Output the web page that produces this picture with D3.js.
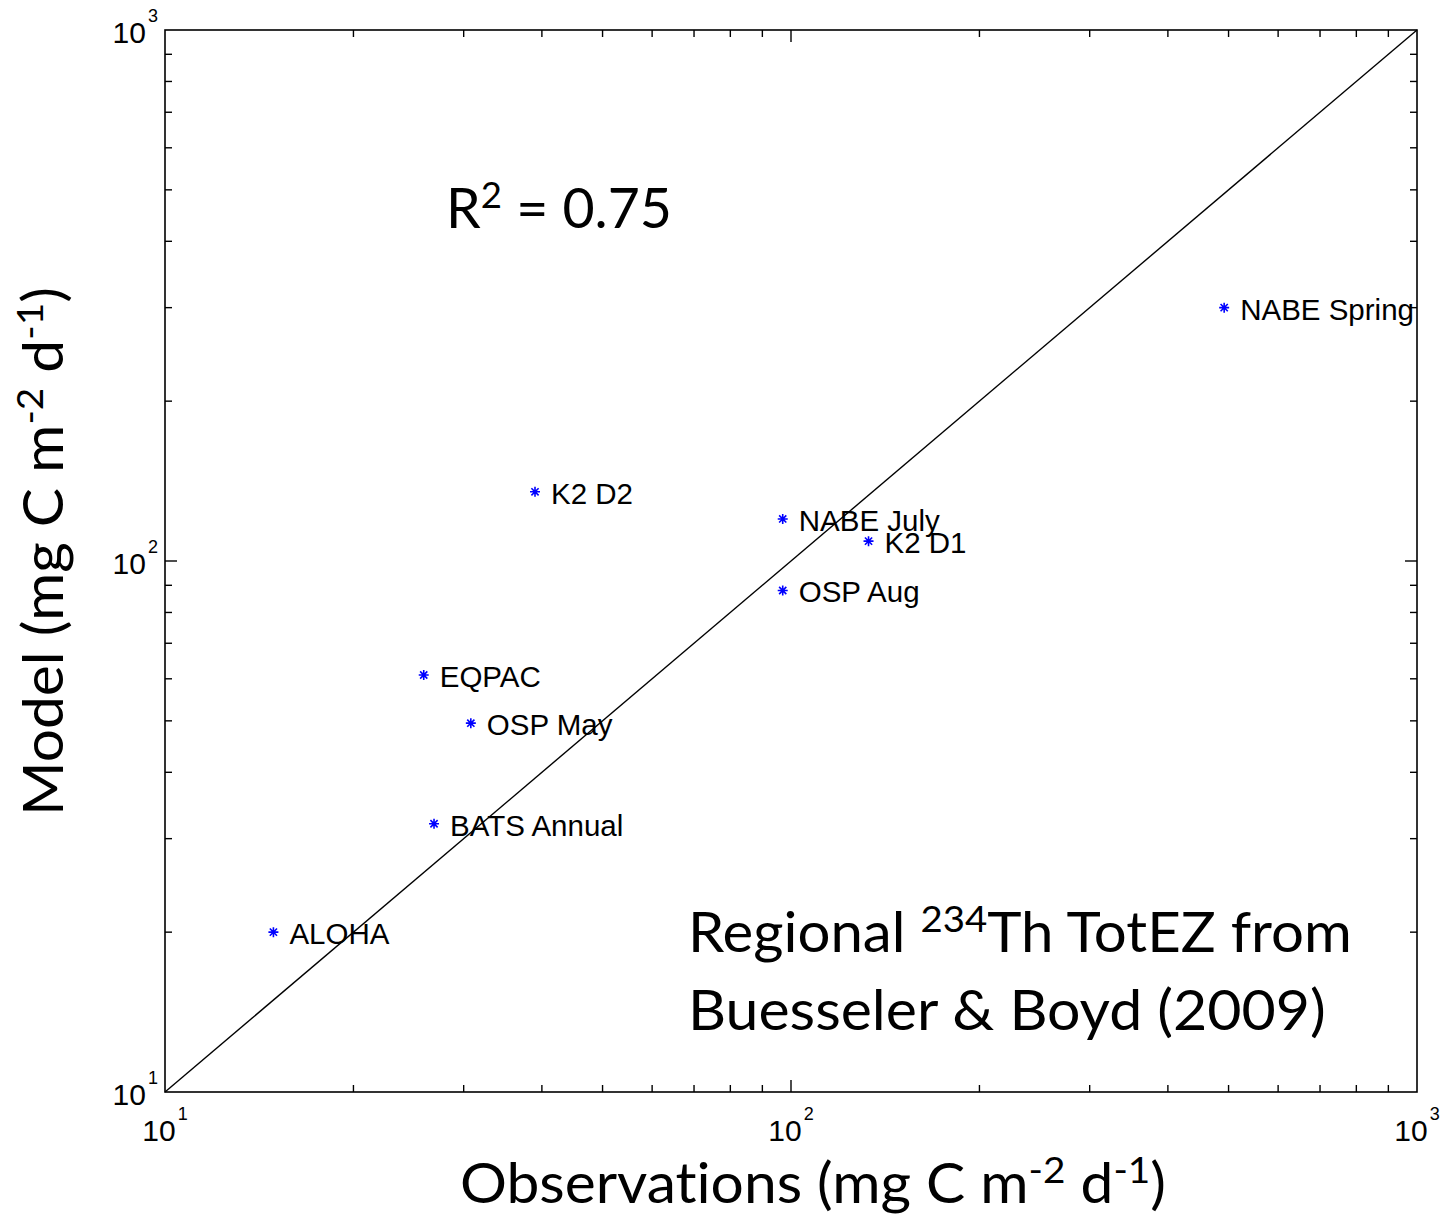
<!DOCTYPE html>
<html>
<head>
<meta charset="utf-8">
<script src="https://cdn.jsdelivr.net/npm/d3@7"></script>
<style>
  html, body { margin: 0; padding: 0; background: #fff; }
  svg { display: block; }
  text { font-variant-ligatures: none; font-feature-settings: "liga" 0, "clig" 0; }
</style>
</head>
<body>
<svg id="chart" width="1444" height="1231"></svg>
<script>
// Export flux by site: observed vs. modelled (mg C m^-2 d^-1)
const sites    = ["NABE Spring", "K2 D2", "NABE July", "K2 D1", "OSP Aug", "EQPAC", "OSP May", "BATS Annual", "ALOHA"];
const observed = [492, 39, 97, 133, 97, 25.9, 30.8, 26.9, 14.9];
const modeled  = [300, 135, 120, 109, 88, 61, 49.5, 32, 20];

// Axis extents and decade tick labels
const domainLo = 10, domainHi = 1000;
const decadeTicks = [10, 100, 1000];
const decadeExponents = ["1", "2", "3"];

const svg = d3.select("#chart");
const plot = { left: 165, right: 1417, top: 30, bottom: 1092 };

const x = d3.scaleLog().domain([domainLo, domainHi]).range([plot.left, plot.right]);
const y = d3.scaleLog().domain([domainLo, domainHi]).range([plot.bottom, plot.top]);

const helv = "'Liberation Sans', Arial, Helvetica, sans-serif";
const calib = "Lato, 'Open Sans', sans-serif";

// Minor ticks (2..9 in each decade) and the interior major tick
const minorTicks = x.ticks().filter(v => !decadeTicks.includes(v));
const innerMajor = decadeTicks.slice(1, -1);

const ticks = svg.append("g").attr("stroke", "#000").attr("stroke-width", 1.4);
function tickSet(values, len) {
  values.forEach(v => {
    const px = x(v), py = y(v);
    ticks.append("line").attr("x1", px).attr("x2", px).attr("y1", plot.bottom).attr("y2", plot.bottom - len);
    ticks.append("line").attr("x1", px).attr("x2", px).attr("y1", plot.top).attr("y2", plot.top + len);
    ticks.append("line").attr("y1", py).attr("y2", py).attr("x1", plot.left).attr("x2", plot.left + len);
    ticks.append("line").attr("y1", py).attr("y2", py).attr("x1", plot.right).attr("x2", plot.right - len);
  });
}
tickSet(minorTicks, 7);
tickSet(innerMajor, 12);

// 1:1 line
svg.append("line")
  .attr("x1", x(domainLo)).attr("y1", y(domainLo))
  .attr("x2", x(domainHi)).attr("y2", y(domainHi))
  .attr("stroke", "#000").attr("stroke-width", 1.4);

// Plot frame
svg.append("rect")
  .attr("x", plot.left).attr("y", plot.top)
  .attr("width", plot.right - plot.left).attr("height", plot.bottom - plot.top)
  .attr("fill", "none").attr("stroke", "#000").attr("stroke-width", 1.6);

// Decade tick labels, 10 with superscript exponent
decadeTicks.forEach((v, i) => {
  const tx = svg.append("text")
    .attr("x", x(v)).attr("y", plot.bottom + 49)
    .attr("text-anchor", "middle")
    .attr("font-family", helv).attr("font-size", 30);
  tx.append("tspan").text("10");
  tx.append("tspan").attr("font-size", 18).attr("dy", -21).attr("dx", 2).text(decadeExponents[i]);

  const ty = svg.append("text")
    .attr("x", plot.left - 7).attr("y", y(v) + 13)
    .attr("text-anchor", "end")
    .attr("font-family", helv).attr("font-size", 30);
  ty.append("tspan").text("10");
  ty.append("tspan").attr("font-size", 18).attr("dy", -21).attr("dx", 2).text(decadeExponents[i]);
});

// Asterisk markers
const points = sites.map((s, i) => ({ name: s, obs: observed[i], mod: modeled[i] }));
const r = 5;
const star = `M0,${-r}V${r}M${-r},0H${r}M${-r*0.72},${-r*0.72}L${r*0.72},${r*0.72}M${-r*0.72},${r*0.72}L${r*0.72},${-r*0.72}`;
const pts = svg.append("g");
pts.selectAll("path").data(points).join("path")
  .attr("d", star)
  .attr("transform", d => `translate(${x(d.obs)},${y(d.mod)})`)
  .attr("stroke", "#0000ff").attr("stroke-width", 1.6).attr("fill", "none");

pts.selectAll("text").data(points).join("text")
  .attr("x", d => x(d.obs) + 16)
  .attr("y", d => y(d.mod) + 12)
  .attr("font-family", helv).attr("font-size", 29.5).attr("fill", "#000")
  .text(d => d.name);

// Horizontal stretch factor that brings a text element to a given width
function fitWidth(sel, width) {
  const w = sel.node().getBBox().width;
  return width / w;
}

// Text with superscripts: parts = [[text, isSuper], ...]
function richText(parent, parts, size) {
  const t = parent.append("text").attr("font-family", calib).attr("font-size", size).attr("fill", "#000");
  let up = false;
  parts.forEach(([s, sup]) => {
    const ts = t.append("tspan").text(s);
    if (sup && !up) { ts.attr("font-size", size * 0.66).attr("dy", -size * 0.36); up = true; }
    else if (!sup && up) { ts.attr("dy", size * 0.36); up = false; }
    else if (sup) ts.attr("font-size", size * 0.66);
  });
  return t;
}

function placeText(parts, x0, y0, width, rotate) {
  const g = svg.append("g");
  const t = richText(g, parts, 56);
  const sx = fitWidth(t, width);
  g.attr("transform", `translate(${x0},${y0})${rotate ? " rotate(-90)" : ""} scale(${sx},1)`);
}

placeText([["R", false], ["2", true], [" = 0.75", false]], 446, 228, 226, false);
placeText([["Regional ", false], ["234", true], ["Th TotEZ from", false]], 688, 952, 664, false);
placeText([["Buesseler & Boyd (2009)", false]], 688, 1030, 638, false);
placeText([["Observations (mg C m", false], ["-2", true], [" d", false], ["-1", true], [")", false]], 460, 1203, 706, false);
placeText([["Model (mg C m", false], ["-2", true], [" d", false], ["-1", true], [")", false]], 63, 816, 529, true);
</script>
</body>
</html>
